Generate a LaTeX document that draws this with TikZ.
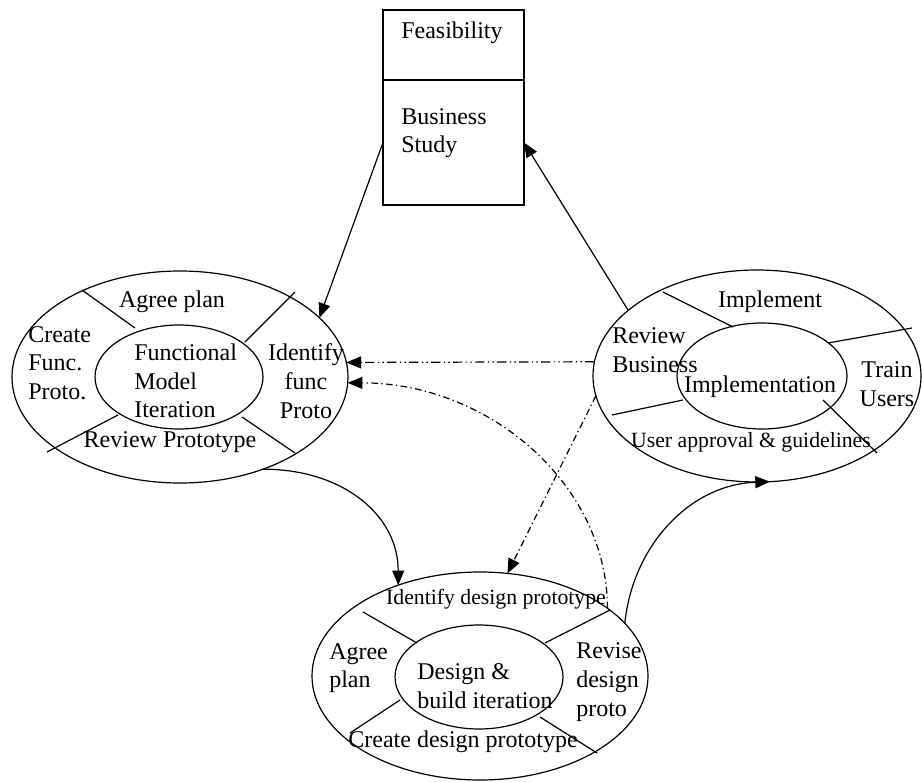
\documentclass[tikz,border=0pt]{standalone}
\usepackage{fontspec}
\setmainfont{Liberation Serif}
\usetikzlibrary{arrows.meta,shapes.geometric}

\begin{document}
\begin{tikzpicture}[x=0.75pt,y=0.75pt,yscale=-1,xscale=1,
	ring/.style={draw, ellipse, inner sep=0pt, outer sep=0pt, line width=0.9pt},
	stagebox/.style={draw, rectangle, inner sep=0pt, outer sep=0pt, minimum width=105.75pt, line width=0.9pt},
	lbl/.style={inner sep=0.75pt, font=\fontsize{18}{21.5}\selectfont},
	smalllbl/.style={inner sep=0.75pt, font=\fontsize{16.3}{20}\selectfont},
	flow/.style={line width=0.9pt, -{Triangle[length=11pt,width=9pt]}},
	altflow/.style={dash pattern=on 7pt off 2.5pt on 1pt off 2.5pt on 1pt off 2.5pt},
	feedback/.style={dash pattern=on 5pt off 2.5pt on 1pt off 2.5pt}]
				\useasboundingbox (0,0) rectangle (922,782);

				%Shape: Rectangle
				\node [stagebox, minimum height=52.5pt] (feas) at (453.5,45) {};
				%Shape: Rectangle
				\node [stagebox, minimum height=93.75pt] (study) at (453.5,142.5) {};

				%Shape: Ellipse (functional model)
				\node [ring, minimum width=252pt, minimum height=159pt] (funcring) at (180,377) {};
				\node [ring, minimum width=126pt, minimum height=78pt] (funccore) at (179,377) {};
				\draw [line width=0.9pt] (82,290) -- (135,328) ;
				\draw [line width=0.9pt] (295,292) -- (245,342) ;
				\draw [line width=0.9pt] (47,452) -- (118,415) ;
				\draw [line width=0.9pt] (242,417) -- (295,453) ;

				%Shape: Ellipse (implementation)
				\node [ring, minimum width=246pt, minimum height=159pt] (implring) at (757,376) {};
				\node [ring, minimum width=127.5pt, minimum height=79.5pt] (implcore) at (762,376) {};
				\draw [line width=0.9pt] (663,292) -- (733,327) ;
				\draw [line width=0.9pt] (828,343) -- (912,328) ;
				\draw [line width=0.9pt] (612,415) -- (683,400) ;
				\draw [line width=0.9pt] (823,400) -- (877,453) ;

				%Shape: Ellipse (design and build)
				\node [ring, minimum width=252pt, minimum height=156pt] (buildring) at (480,676) {};
				\node [ring, minimum width=126pt, minimum height=78pt] (buildcore) at (479,677) {};
				\draw [line width=0.9pt] (363,612) -- (417,643) ;
				\draw [line width=0.9pt] (545,643) -- (610,610) ;
				\draw [line width=0.9pt] (350,733) -- (400,700) ;
				\draw [line width=0.9pt] (540,717) -- (597,753) ;

				%Straight Lines
				\draw [flow] (study.west) -- (funcring.23) ;
				%Straight Lines
				\draw [flow] (implring.153) -- (study.east) ;
				%Straight Lines
				\draw [flow, altflow] (implring.175) -- (funcring.5) ;
				%Straight Lines
				\draw [flow, feedback] (implring.187) -- (buildring.75) ;
				%Curve Lines
				\draw [flow, feedback] (buildring.28) .. controls +(0,-123) and +(142,0) .. (funcring.-2) ;
				%Curve Lines
				\draw [flow] (funcring.-48) .. controls +(80,0) and +(0,-70) .. (buildring.132) ;
				%Curve Lines
				\draw [flow] (buildring.20) .. controls +(8,-78) and +(-80,3) .. (implring.-83) ;

				% Text Node
				\draw (400,33) node [lbl, anchor=west] (feastxt) {Feasibility};
				% Text Node
				\draw (400,133) node [lbl, anchor=west, align=left] (studytxt) {Business\\Study};

				% Text Node
				\draw (172,302) node [lbl] (agreetxt) {Agree plan};
				% Text Node
				\draw (27,363) node [lbl, anchor=west, align=left] (createtxt) {Create\\Func.\\Proto.};
				% Text Node
				\draw (133,381) node [lbl, anchor=west, align=left] (functxt) {Functional\\Model\\Iteration};
				% Text Node
				\draw (306,381) node [lbl, align=center] (identtxt) {Identify\\func\\Proto};
				% Text Node
				\draw (170,442) node [lbl] (reviewtxt) {Review Prototype};

				% Text Node
				\draw (770,302) node [lbl] (impltxt) {Implement};
				% Text Node
				\draw (611,350) node [lbl, anchor=west, align=left] (revbustxt) {Review\\Business};
				% Text Node
				\draw (760,387) node [lbl] (impltntxt) {Implementation};
				% Text Node
				\draw (887,384) node [lbl, align=center] (traintxt) {Train\\Users};
				% Text Node
				\draw (751,442) node [smalllbl] (approvtxt) {User approval \& guidelines};

				% Text Node
				\draw (496,599) node [smalllbl] (idesigntxt) {Identify design prototype};
				% Text Node
				\draw (328,668) node [lbl, anchor=west, align=left] (bagreetxt) {Agree\\plan};
				% Text Node
				\draw (416,686) node [lbl, anchor=west, align=left] (buildtxt) {Design \&\\build iteration};
				% Text Node
				\draw (575,682) node [lbl, anchor=west, align=left] (revisetxt) {Revise\\design\\proto};
				% Text Node
				\draw (463,742) node [lbl] (cdesigntxt) {Create design prototype};

			\end{tikzpicture}
\end{document}
